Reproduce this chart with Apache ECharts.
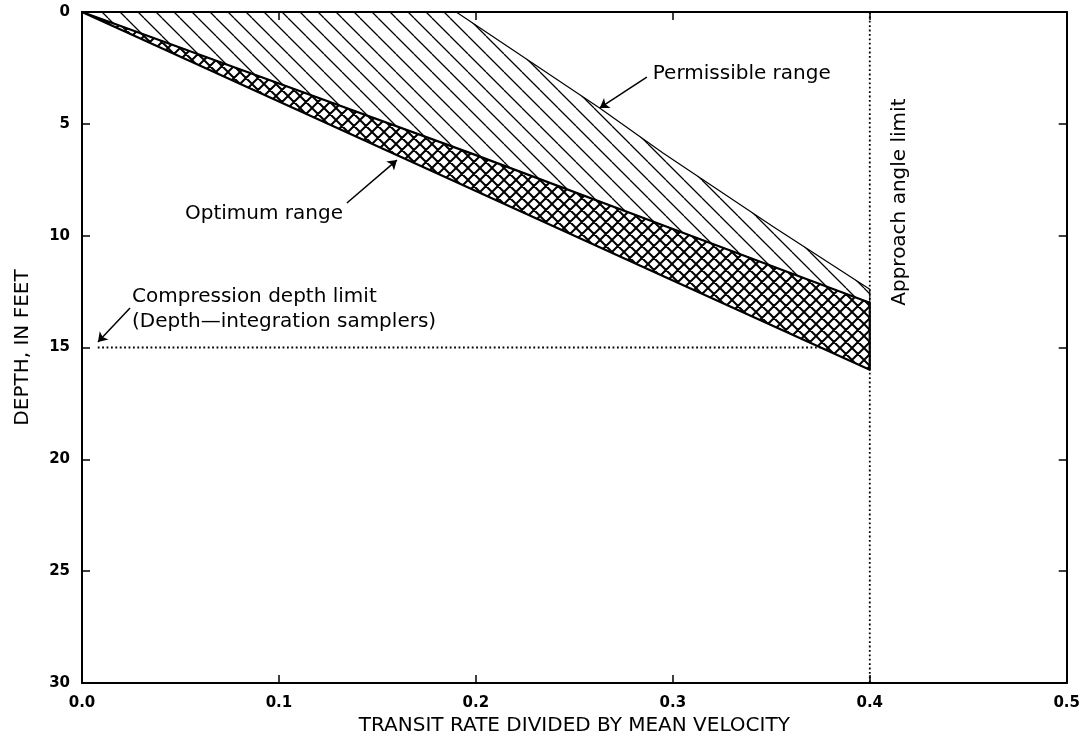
<!DOCTYPE html>
<html><head><meta charset="utf-8">
<script src="https://cdn.jsdelivr.net/npm/echarts@6/dist/echarts.min.js"></script>
<style>html,body{margin:0;background:#fff}#c{width:1083px;height:744px}</style>
</head><body><div id="c"></div>
<script>
// ---- data ----
const permissibleUpper = [[0, 0], [0.19, 0], [0.263, 4.3], [0.295, 6.3], [0.351, 9.6], [0.4, 12.4]];
const optimumUpper = [[0, 0], [0.1, 3.2], [0.2, 6.4], [0.3, 9.7], [0.4, 13.0]];
const optimumLower = [[0, 0], [0.1, 4.0], [0.2, 8.0], [0.3, 12.0], [0.4, 16.0]];
const compressionLimit = [[0.008, 15], [0.375, 15]];
const approachLimit = [[0.4, 0], [0.4, 30]];
const xTickLabels = ['0.0', '0.1', '0.2', '0.3', '0.4', '0.5'];
const yTickLabels = ['0', '5', '10', '15', '20', '25', '30'];
const xTitle = 'TRANSIT RATE DIVIDED BY MEAN VELOCITY';
const yTitle = 'DEPTH, IN FEET';
// annotations: text anchor and arrow (from, to), in data units
const permissibleNote = { text: 'Permissible range', at: [0.2898, 2.75], arrow: [[0.2868, 2.91], [0.2629, 4.29]] };
const optimumNote = { text: 'Optimum range', at: [0.1325, 9.0], arrow: [[0.1345, 8.54], [0.1599, 6.62]] };
const compressionNote = { lines: ['Compression depth limit', '(Depth\u2014integration samplers)'], at: [0.0254, 13.3], arrow: [[0.0244, 13.23], [0.0081, 14.75]] };
const approachNote = { text: 'Approach angle limit', at: [0.4152, 8.5] };

// ---- fill patterns ----
function hatchPattern(s, w) {
  const c = document.createElement('canvas'); c.width = s; c.height = s;
  const g = c.getContext('2d');
  g.strokeStyle = '#000'; g.lineWidth = w;
  g.beginPath();
  for (let k = -1; k <= 1; k++) { g.moveTo(0, k * s); g.lineTo(s, s + k * s); }
  g.stroke();
  return c;
}
function crossPattern(s, w) {
  const c = document.createElement('canvas'); c.width = s; c.height = s;
  const g = c.getContext('2d');
  g.fillStyle = '#fff'; g.fillRect(0, 0, s, s);
  g.strokeStyle = '#000'; g.lineWidth = w;
  g.beginPath();
  for (let k = -1; k <= 1; k++) {
    g.moveTo(0, k * s); g.lineTo(s, s + k * s);
    g.moveTo(0, s + k * s); g.lineTo(s, k * s);
  }
  g.stroke();
  return c;
}
const hatch = hatchPattern(18, 1.3);
const cross = crossPattern(12, 2);

const FONT = '"DejaVu Sans", sans-serif';
const chart = echarts.init(document.getElementById('c'), null, { renderer: 'canvas' });

function polySeries(points, fillImg, strokeW) {
  return {
    type: 'custom', silent: true, animation: false, clip: false,
    data: [0],
    renderItem: function (params, api) {
      const pts = points.map(p => api.coord(p));
      return {
        type: 'polygon', shape: { points: pts },
        style: { fill: { image: fillImg, repeat: 'repeat' }, stroke: '#000', lineWidth: strokeW, lineJoin: 'round' }
      };
    }
  };
}

const permissiblePoly = permissibleUpper.concat([[0.4, optimumUpper[optimumUpper.length - 1][1]]], optimumUpper.slice().reverse());
const optimumPoly = optimumUpper.concat(optimumLower.slice().reverse());

const axisCommon = {
  type: 'value',
  axisLine: { show: true, onZero: false, lineStyle: { color: '#000', width: 2 } },
  axisTick: { show: true, inside: true, length: 8, lineStyle: { color: '#000', width: 1.5 } },
  splitLine: { show: false }
};

function arrowLine(a) {
  return [{ coord: a[0] }, { coord: a[1] }];
}

chart.setOption({
  animation: false,
  backgroundColor: '#fff',
  grid: { left: 82, right: 16, top: 12, bottom: 61 },
  xAxis: [
    Object.assign({}, axisCommon, {
      min: 0, max: 0.5, interval: 0.1, position: 'bottom',
      name: xTitle, nameLocation: 'middle', nameGap: 33,
      nameTextStyle: { fontFamily: FONT, fontSize: 20, color: '#000' },
      axisLabel: { margin: 13, fontFamily: FONT, fontSize: 15, fontWeight: 'bold', color: '#000',
        formatter: v => xTickLabels[Math.round(v * 10)] }
    }),
    Object.assign({}, axisCommon, { min: 0, max: 0.5, interval: 0.1, position: 'top', axisLabel: { show: false } })
  ],
  yAxis: [
    Object.assign({}, axisCommon, {
      min: 0, max: 30, interval: 5, inverse: true, position: 'left',
      name: yTitle, nameLocation: 'middle', nameGap: 49,
      nameTextStyle: { fontFamily: FONT, fontSize: 20, color: '#000' },
      axisLabel: { margin: 12, fontFamily: FONT, fontSize: 15, fontWeight: 'bold', color: '#000',
        formatter: v => yTickLabels[Math.round(v / 5)] }
    }),
    Object.assign({}, axisCommon, { min: 0, max: 30, interval: 5, inverse: true, position: 'right', axisLabel: { show: false } })
  ],
  series: [
    polySeries(permissiblePoly, hatch, 1.2),
    polySeries(optimumPoly, cross, 2.2),
    {
      type: 'line', data: compressionLimit, symbol: 'none', silent: true,
      lineStyle: { color: '#000', width: 1.8, type: [1.8, 2.6] }
    },
    {
      type: 'line', data: approachLimit, symbol: 'none', silent: true,
      lineStyle: { color: '#000', width: 1.8, type: [1.8, 2.6] }
    },
    {
      type: 'line', data: [], silent: true,
      markLine: {
        silent: true, animation: false,
        symbol: ['none', 'arrow'], symbolSize: 9,
        label: { show: false },
        lineStyle: { color: '#000', width: 1.5, type: 'solid' },
        data: [arrowLine(permissibleNote.arrow), arrowLine(optimumNote.arrow), arrowLine(compressionNote.arrow)]
      }
    }
  ]
});

const px = p => chart.convertToPixel({ xAxisIndex: 0, yAxisIndex: 0 }, p);
const tstyle = (extra) => Object.assign({ fontFamily: FONT, fontSize: 20, fill: '#000' }, extra);
const pP = px(permissibleNote.at), pO = px(optimumNote.at), pC = px(compressionNote.at), pA = px(approachNote.at);
chart.setOption({
  graphic: [
    { type: 'text', x: pP[0], y: pP[1], style: tstyle({ text: permissibleNote.text, align: 'left', verticalAlign: 'middle' }) },
    { type: 'text', x: pO[0], y: pO[1], style: tstyle({ text: optimumNote.text, align: 'right', verticalAlign: 'middle' }) },
    { type: 'text', x: pC[0], y: pC[1], style: tstyle({ text: compressionNote.lines.join('\n'), align: 'left', verticalAlign: 'middle', lineHeight: 25 }) },
    { type: 'text', x: pA[0], y: pA[1], rotation: Math.PI / 2, style: tstyle({ text: approachNote.text, align: 'center', verticalAlign: 'middle' }) }
  ]
});
</script></body></html>
